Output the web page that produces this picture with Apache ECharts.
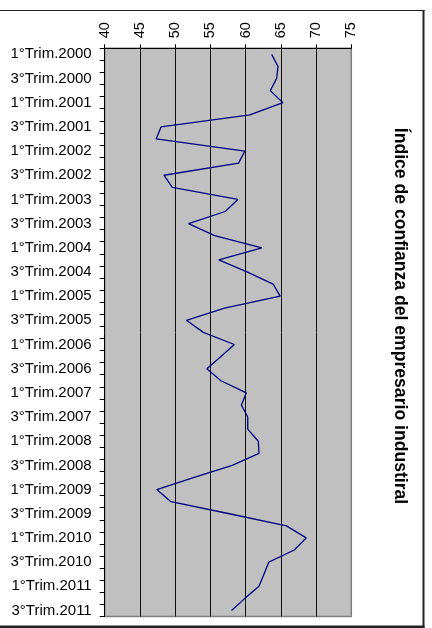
<!DOCTYPE html>
<html>
<head>
<meta charset="utf-8">
<script src="https://cdn.jsdelivr.net/npm/echarts@6/dist/echarts.min.js"></script>
<style>
  html, body { margin: 0; padding: 0; background: #fff; }
  #chart { width: 432px; height: 628px; }
</style>
</head>
<body>
<div id="chart"></div>
<script>
// Quarterly periods, 1st quarter 2000 through 3rd quarter 2011
const quarters = [
  '1°Trim.2000', '2°Trim.2000', '3°Trim.2000', '4°Trim.2000',
  '1°Trim.2001', '2°Trim.2001', '3°Trim.2001', '4°Trim.2001',
  '1°Trim.2002', '2°Trim.2002', '3°Trim.2002', '4°Trim.2002',
  '1°Trim.2003', '2°Trim.2003', '3°Trim.2003', '4°Trim.2003',
  '1°Trim.2004', '2°Trim.2004', '3°Trim.2004', '4°Trim.2004',
  '1°Trim.2005', '2°Trim.2005', '3°Trim.2005', '4°Trim.2005',
  '1°Trim.2006', '2°Trim.2006', '3°Trim.2006', '4°Trim.2006',
  '1°Trim.2007', '2°Trim.2007', '3°Trim.2007', '4°Trim.2007',
  '1°Trim.2008', '2°Trim.2008', '3°Trim.2008', '4°Trim.2008',
  '1°Trim.2009', '2°Trim.2009', '3°Trim.2009', '4°Trim.2009',
  '1°Trim.2010', '2°Trim.2010', '3°Trim.2010', '4°Trim.2010',
  '1°Trim.2011', '2°Trim.2011', '3°Trim.2011'
];

// Industrial business confidence index per quarter
const confidenceIndex = [
  63.7, 64.6, 64.4, 63.5, 65.3, 60.6, 48.0, 47.3, 59.9, 59.0,
  48.4, 49.6, 58.9, 57.1, 51.9, 55.6, 62.3, 56.2, 60.2, 63.9,
  64.9, 57.0, 51.6, 54.0, 58.4, 56.5, 54.5, 56.5, 60.1, 59.4,
  60.3, 60.3, 61.8, 61.9, 58.1, 52.7, 47.4, 49.4, 57.7, 65.8,
  68.6, 66.9, 63.3, 62.6, 61.9, 59.9, 58.0
];

// Value scale
const scaleMin = 40;
const scaleMax = 75;
const scaleStep = 5;

const chartTitle = 'Índice de confianza del empresario industiral';

const chart = echarts.init(document.getElementById('chart'), null, { renderer: 'canvas' });

chart.setOption({
  animation: false,
  backgroundColor: '#ffffff',
  grid: {
    left: 104.7,
    top: 48.3,
    right: 80.7,
    bottom: 11.5,
    show: true,
    backgroundColor: '#c0c0c0',
    borderColor: '#808080',
    borderWidth: 1.5
  },
  xAxis: {
    type: 'value',
    position: 'top',
    min: scaleMin,
    max: scaleMax,
    interval: scaleStep,
    axisLine: { show: true, lineStyle: { color: '#000', width: 1 } },
    axisTick: { show: true, length: 4, lineStyle: { color: '#000' } },
    axisLabel: {
      rotate: -90,
      margin: 10,
      color: '#000',
      fontFamily: 'Arial, "Liberation Sans", sans-serif',
      fontSize: 14.5
    },
    splitLine: {
      show: true,
      showMinLine: false,
      showMaxLine: false,
      lineStyle: { color: '#111', width: 1 }
    }
  },
  yAxis: {
    type: 'category',
    inverse: true,
    boundaryGap: true,
    data: quarters,
    axisLine: { show: true, lineStyle: { color: '#000', width: 1 } },
    axisTick: { show: true, interval: 0, length: 5, lineStyle: { color: '#000' } },
    axisLabel: {
      interval: 1,
      margin: 13,
      color: '#000',
      fontFamily: 'Arial, "Liberation Sans", sans-serif',
      fontSize: 15,
      padding: [2, 0, 0, 0]
    },
    splitLine: { show: false }
  },
  series: [{
    type: 'line',
    data: confidenceIndex,
    showSymbol: false,
    symbol: 'none',
    lineStyle: { color: '#000080', width: 1.3 },
    itemStyle: { color: '#000080' }
  }],
  graphic: [
    {
      type: 'text',
      x: 400,
      y: 316,
      rotation: -Math.PI / 2,
      style: {
        text: chartTitle,
        x: 0,
        y: 0,
        align: 'center',
        verticalAlign: 'middle',
        textAlign: 'center',
        textVerticalAlign: 'middle',
        fill: '#000',
        font: 'bold 17.6px Arial, "Liberation Sans", sans-serif'
      }
    },
    {
      type: 'line',
      shape: { x1: -5, y1: 10.5, x2: 424.5, y2: 10.5 },
      style: { stroke: '#222', lineWidth: 1 }
    },
    {
      type: 'line',
      shape: { x1: 423.5, y1: 10, x2: 423.5, y2: 628 },
      style: { stroke: '#222', lineWidth: 2 }
    },
    {
      type: 'line',
      shape: { x1: -5, y1: 626.7, x2: 424.5, y2: 626.7 },
      style: { stroke: '#222', lineWidth: 2.6 }
    }
  ]
});
</script>
</body>
</html>
